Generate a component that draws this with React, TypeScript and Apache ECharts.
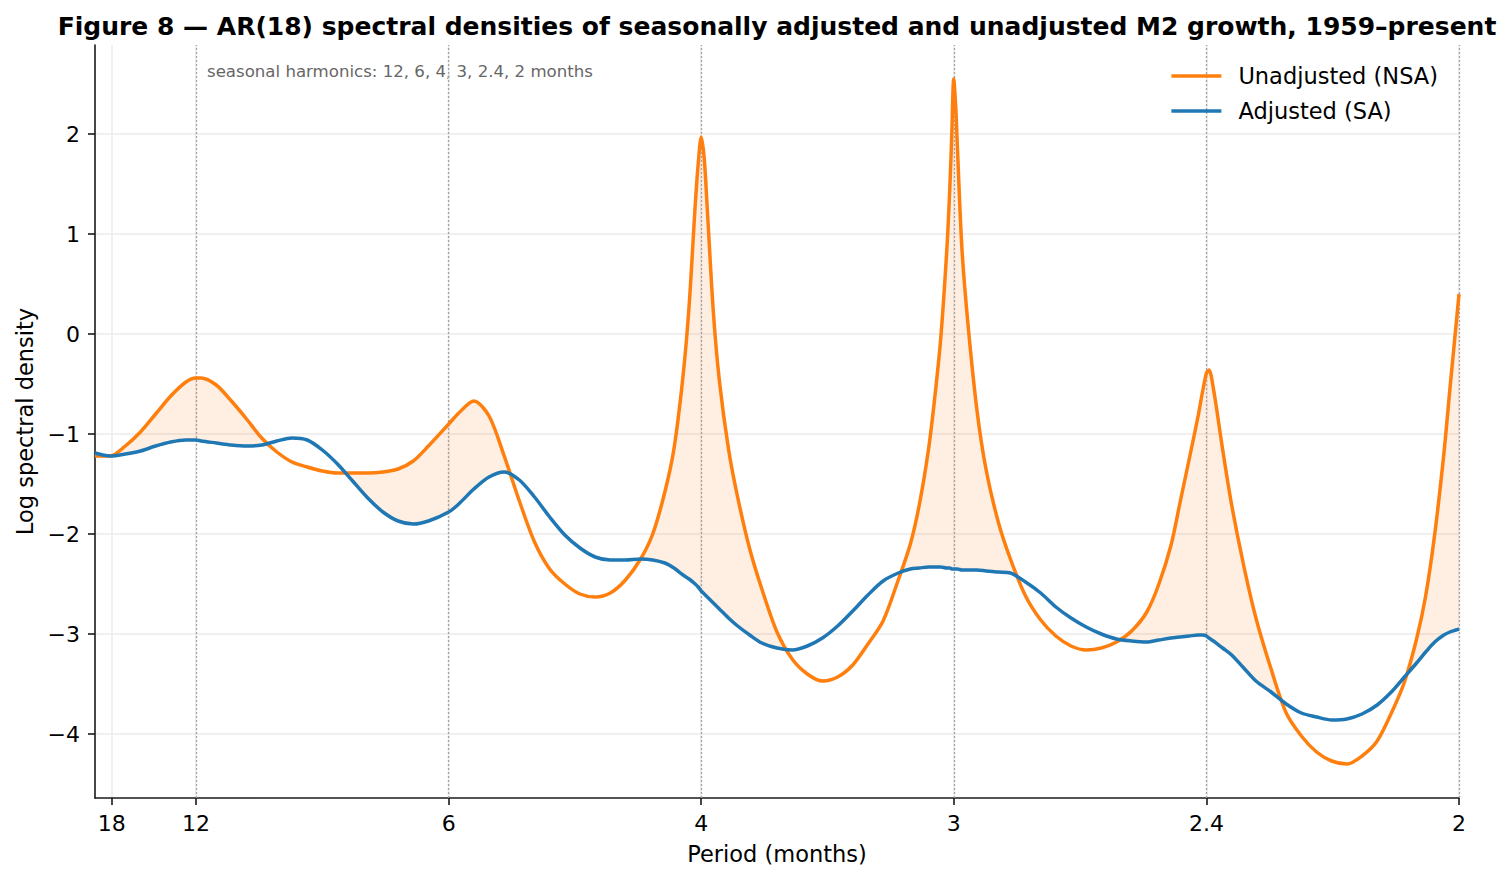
import React, { useEffect, useRef } from "react";
import * as echarts from "echarts";

// Frequency (cycles per month) at which both AR(18) spectra were read
const freq = [
  0.05, 0.055, 0.06, 0.065, 0.07, 0.075, 0.08, 0.0833, 0.085, 0.09,
  0.095, 0.1, 0.105, 0.11, 0.115, 0.12, 0.125, 0.13, 0.135, 0.14,
  0.145, 0.15, 0.155, 0.16, 0.1667, 0.17, 0.175, 0.18, 0.185, 0.19,
  0.195, 0.2, 0.205, 0.21, 0.215, 0.22, 0.225, 0.23, 0.234, 0.238,
  0.241, 0.244, 0.246, 0.248, 0.249, 0.25, 0.251, 0.252, 0.254, 0.256,
  0.259, 0.262, 0.266, 0.27, 0.275, 0.28, 0.285, 0.29, 0.295, 0.3,
  0.305, 0.31, 0.315, 0.319, 0.322, 0.325, 0.327, 0.329, 0.331, 0.332,
  0.3327, 0.3333, 0.334, 0.3345, 0.336, 0.338, 0.341, 0.344, 0.348, 0.352,
  0.357, 0.362, 0.367, 0.372, 0.377, 0.382, 0.387, 0.392, 0.397, 0.401,
  0.405, 0.408, 0.411, 0.414, 0.4155, 0.4167, 0.4175, 0.419, 0.422, 0.425,
  0.429, 0.433, 0.438, 0.443, 0.448, 0.453, 0.458, 0.463, 0.468, 0.473,
  0.478, 0.482, 0.486, 0.489, 0.492, 0.495, 0.497, 0.499, 0.5,
];

// Log spectral density, unadjusted (NSA)
const nsa = [
  -1.22, -1.22, -1.12, -0.98, -0.8, -0.62, -0.48, -0.44, -0.44, -0.51,
  -0.67, -0.85, -1.04, -1.18, -1.28, -1.33, -1.37, -1.39, -1.39, -1.39,
  -1.38, -1.35, -1.27, -1.12, -0.9, -0.79, -0.67, -0.82, -1.22, -1.67,
  -2.08, -2.35, -2.5, -2.6, -2.63, -2.59, -2.46, -2.25, -2.0, -1.58,
  -1.15, -0.42, 0.28, 1.28, 1.7, 1.97, 1.75, 1.25, 0.22, -0.47,
  -1.15, -1.63, -2.15, -2.55, -2.98, -3.25, -3.4, -3.47, -3.43, -3.31,
  -3.1, -2.87, -2.46, -2.1, -1.7, -1.15, -0.65, -0.05, 0.83, 1.45,
  2.03, 2.55, 2.25, 1.88, 0.86, 0.1, -0.77, -1.36, -1.88, -2.25,
  -2.62, -2.86, -3.02, -3.12, -3.16, -3.14, -3.08, -2.97, -2.78, -2.5,
  -2.11, -1.68, -1.25, -0.81, -0.56, -0.39, -0.36, -0.55, -1.15, -1.71,
  -2.32, -2.84, -3.35, -3.79, -4.02, -4.18, -4.27, -4.3, -4.22, -4.07,
  -3.77, -3.48, -3.05, -2.62, -2.0, -1.2, -0.55, 0.08, 0.4,
];

// Log spectral density, seasonally adjusted (SA)
const sa = [
  -1.19, -1.22, -1.2, -1.17, -1.12, -1.08, -1.06, -1.06, -1.07, -1.09,
  -1.11, -1.12, -1.11, -1.07, -1.04, -1.06, -1.16, -1.3, -1.47, -1.64,
  -1.78, -1.87, -1.9, -1.87, -1.78, -1.7, -1.55, -1.43, -1.38, -1.46,
  -1.63, -1.83, -2.01, -2.14, -2.23, -2.26, -2.26, -2.25, -2.26, -2.29,
  -2.34, -2.41, -2.45, -2.5, -2.53, -2.57, -2.6, -2.63, -2.69, -2.75,
  -2.84, -2.92, -3.01, -3.09, -3.14, -3.16, -3.12, -3.04, -2.92, -2.77,
  -2.61, -2.47, -2.39, -2.35, -2.34, -2.33, -2.33, -2.33, -2.34, -2.34,
  -2.35, -2.35, -2.35, -2.35, -2.36, -2.36, -2.36, -2.37, -2.38, -2.39,
  -2.48, -2.59, -2.73, -2.84, -2.93, -3.0, -3.05, -3.07, -3.08, -3.06,
  -3.04, -3.03, -3.02, -3.01, -3.01, -3.02, -3.04, -3.07, -3.14, -3.21,
  -3.34, -3.47, -3.58, -3.7, -3.79, -3.83, -3.86, -3.85, -3.8, -3.71,
  -3.57, -3.43, -3.29, -3.18, -3.08, -3.01, -2.98, -2.96, -2.95,
];

// Axis ticks
const periodTicks = [18, 12, 6, 4, 3, 2.4, 2];
const harmonicPeriods = [12, 6, 4, 3, 2.4, 2];
const yTicks = [-4, -3, -2, -1, 0, 1, 2];

const TITLE =
  "Figure 8 \u2014 AR(18) spectral densities of seasonally adjusted and unadjusted M2 growth, 1959\u2013present";
const NOTE = "seasonal harmonics: 12, 6, 4, 3, 2.4, 2 months";
const FONT = "'DejaVu Sans', 'Liberation Sans', sans-serif";
const ORANGE = "#ff7f0e";
const BLUE = "#1f77b4";
const FILL = "rgba(255,127,14,0.12)";
const AXIS = "#1a1a1a";

export default function App() {
  const ref = useRef<HTMLDivElement>(null);

  useEffect(() => {
    document.body.style.margin = "0";
    if (!ref.current) return;
    const chart = echarts.init(ref.current, undefined, { renderer: "svg" });

    const xTickValues = periodTicks.map((p) => 1 / p);
    const periodLabel = (v: number) => {
      const i = xTickValues.findIndex((t) => Math.abs(t - v) < 1e-6);
      return i >= 0 ? String(periodTicks[i]) : "";
    };

    const nsaData = freq.map((f, i) => [f, nsa[i]]);
    const saData = freq.map((f, i) => [f, sa[i]]);

    const SMOOTH = 0.3;

    // Fill between the curves wherever NSA lies above SA
    const renderGap = (_params: any, api: any) => {
      const children: any[] = [];
      let upper: number[][] = [];
      let lower: number[][] = [];
      const flush = () => {
        if (upper.length > 1) {
          children.push({
            type: "polygon",
            silent: true,
            shape: { points: upper.concat(lower.slice().reverse()) },
            style: { fill: FILL, stroke: null },
          });
        }
        upper = [];
        lower = [];
      };
      const n = freq.length;
      for (let i = 0; i < n; i++) {
        const d = nsa[i] - sa[i];
        if (d >= 0) {
          upper.push(api.coord([freq[i], nsa[i]]));
          lower.push(api.coord([freq[i], sa[i]]));
        }
        if (i < n - 1) {
          const d2 = nsa[i + 1] - sa[i + 1];
          if (d >= 0 !== d2 >= 0) {
            const t = d / (d - d2);
            const fx = freq[i] + t * (freq[i + 1] - freq[i]);
            const fy = nsa[i] + t * (nsa[i + 1] - nsa[i]);
            const p = api.coord([fx, fy]);
            upper.push(p);
            lower.push(p);
            if (d >= 0) flush();
          }
        }
      }
      flush();
      return { type: "group", children };
    };

    const option: any = {
      animation: false,
      backgroundColor: "#ffffff",
      textStyle: { fontFamily: FONT },
      grid: { left: 95, right: 53, top: 45, bottom: 84, containLabel: false },
      xAxis: {
        type: "value",
        min: 0.05,
        max: 0.5,
        name: "Period (months)",
        nameLocation: "middle",
        nameGap: 44,
        nameTextStyle: { fontSize: 22.5, color: "#000", fontFamily: FONT },
        axisLine: { show: true, onZero: false, lineStyle: { color: AXIS, width: 1.6 } },
        axisTick: {
          show: true,
          length: 7,
          customValues: xTickValues,
          lineStyle: { color: AXIS, width: 1.6 },
        },
        axisLabel: {
          customValues: xTickValues,
          formatter: (v: number) => periodLabel(v),
          fontSize: 22,
          color: "#000",
          margin: 14,
          fontFamily: FONT,
        },
        splitLine: { show: true, lineStyle: { color: "#ebebeb", width: 1.5 } },
      },
      yAxis: {
        type: "value",
        min: -4.64,
        max: 2.89,
        name: "Log spectral density",
        nameLocation: "middle",
        nameGap: 56,
        nameTextStyle: { fontSize: 22.5, color: "#000", fontFamily: FONT },
        axisLine: { show: true, onZero: false, lineStyle: { color: AXIS, width: 1.6 } },
        axisTick: {
          show: true,
          length: 7,
          customValues: yTicks,
          lineStyle: { color: AXIS, width: 1.6 },
        },
        axisLabel: {
          customValues: yTicks,
          formatter: (v: number) => (v < 0 ? "\u2212" + Math.abs(v) : String(v)),
          fontSize: 22,
          color: "#000",
          margin: 15,
          fontFamily: FONT,
        },
        splitLine: { show: true, lineStyle: { color: "#ebebeb", width: 1.5 } },
      },
      legend: {
        data: ["Unadjusted (NSA)", "Adjusted (SA)"],
        orient: "vertical",
        right: 74,
        top: 64,
        padding: 0,
        icon: "rect",
        itemWidth: 50,
        itemHeight: 3.5,
        itemGap: 11,
        selectedMode: false,
        textStyle: {
          fontSize: 22.5,
          color: "#000",
          fontFamily: FONT,
          lineHeight: 24,
          padding: [0, 0, 0, 12],
        },
      },
      graphic: [
        {
          type: "text",
          x: 777,
          y: 26,
          silent: true,
          style: {
            text: TITLE,
            fontSize: 25,
            fontWeight: "bold",
            fontFamily: FONT,
            fill: "#000",
            align: "center",
            verticalAlign: "middle",
            textAlign: "center",
            textVerticalAlign: "middle",
          },
        },
        {
          type: "text",
          x: 207,
          y: 71,
          silent: true,
          style: {
            text: NOTE,
            fontSize: 16.6,
            fontFamily: FONT,
            fill: "#666666",
            align: "left",
            verticalAlign: "middle",
            textAlign: "left",
            textVerticalAlign: "middle",
          },
        },
      ],
      series: [
        {
          name: "gap",
          type: "custom",
          data: [[0.3, 0]],
          encode: { x: 0, y: 1 },
          silent: true,
          z: 1,
          renderItem: renderGap,
        },
        {
          name: "harmonics",
          type: "line",
          data: [],
          silent: true,
          z: 2,
          symbol: "none",
          markLine: {
            silent: true,
            symbol: "none",
            precision: 10,
            z: 2,
            animation: false,
            label: { show: false },
            lineStyle: { color: "#a3a3a3", width: 1.3, type: [2, 2] },
            data: harmonicPeriods.map((p) => ({ xAxis: 1 / p })),
          },
        },
        {
          name: "Unadjusted (NSA)",
          type: "line",
          data: nsaData,
          symbol: "none",
          showSymbol: false,
          smooth: SMOOTH,
          lineStyle: { color: ORANGE, width: 3.5 },
          itemStyle: { color: ORANGE },
          z: 3,
        },
        {
          name: "Adjusted (SA)",
          type: "line",
          data: saData,
          symbol: "none",
          showSymbol: false,
          smooth: SMOOTH,
          lineStyle: { color: BLUE, width: 3.5 },
          itemStyle: { color: BLUE },
          z: 4,
        },
      ],
    };

    chart.setOption(option);
    return () => chart.dispose();
  }, []);

  return <div ref={ref} style={{ width: 1512, height: 882 }} />;
}
